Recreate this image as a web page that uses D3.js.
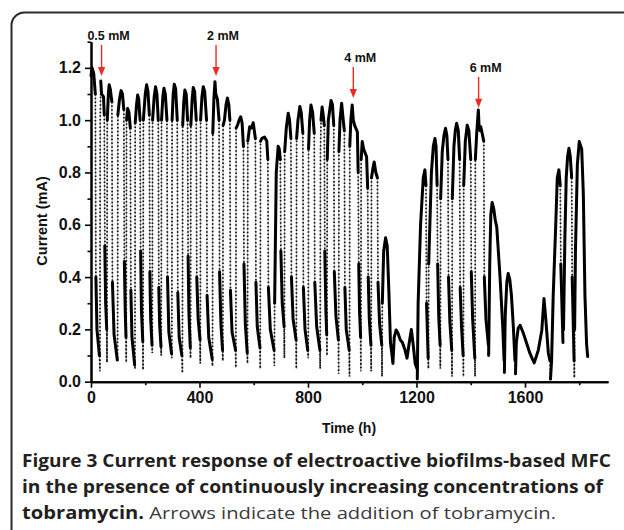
<!DOCTYPE html>
<html>
<head>
<meta charset="utf-8">
<script src="https://cdn.jsdelivr.net/npm/d3@7"></script>
<style>
  body { margin: 0; background: #fff; }
  svg text { font-family: "Liberation Sans", Arial, sans-serif; }
  .caption { font-family: "Open Sans", sans-serif !important; }
</style>
</head>
<body>
<svg id="chart" width="624" height="530"></svg>
<script>
// Current (mA) against time (h), one row per feeding cycle
const trace = [
  [[0,1.17],[4,1.20],[10,1.18],[16,1.10],[18,0.40],[22,0.2],[31,0.10]],
  [[33,0.04],[34,1.00],[36,1.15],[39,1.10],[46,1.09],[49,1.02],[51,0.52],[54,0.3],[58,0.20]],
  [[59,0.074],[60,1.00],[64,1.10],[67,1.135],[71,1.12],[77,1.07],[79,0.38],[85,0.18],[97,0.083]],
  [[98,0.08],[99,1.02],[105,1.08],[111,1.113],[116,1.10],[121,1.04],[123,0.46],[126,0.28],[129,0.17]],
  [[130,0.074],[131,1.00],[135,1.045],[140,1.03],[145,0.97],[147,0.35],[151,0.17],[161,0.064]],
  [[162,0.05],[163,0.99],[168,1.06],[172,1.096],[176,1.08],[181,1.0],[183,0.50],[186,0.27],[191,0.153]],
  [[192,0.045],[193,1.00],[200,1.10],[205,1.135],[210,1.11],[215,1.02],[217,0.42],[220,0.24],[225,0.14]],
  [[226,0.11],[227,1.00],[233,1.09],[238,1.128],[243,1.10],[248,1.0],[250,0.36],[253,0.22],[258,0.134]],
  [[259,0.10],[260,1.00],[265,1.09],[269,1.122],[274,1.10],[280,1.0],[282,0.40],[287,0.19],[297,0.108]],
  [[298,0.09],[299,1.00],[303,1.10],[307,1.137],[312,1.12],[318,1.0],[320,0.34],[325,0.17],[335,0.10]],
  [[337,0.033],[338,0.98],[342,1.07],[346,1.115],[351,1.10],[356,1.0],[358,0.48],[361,0.26],[366,0.13]],
  [[367,0.09],[368,0.98],[373,1.08],[377,1.125],[382,1.11],[388,1.0],[390,0.40],[395,0.24],[402,0.16]],
  [[403,0.07],[404,1.00],[409,1.09],[414,1.128],[419,1.11],[426,1.0],[428,0.33],[434,0.17],[447,0.086]],
  [[448,0.06],[449,0.95],[453,1.08],[457,1.147],[460,1.10],[466,1.08],[472,1.0],[474,0.42],[479,0.22],[485,0.12]],
  [[486,0.08],[487,0.98],[492,1.00],[498,1.06],[503,1.085],[508,1.06],[512,1.0],[514,0.35],[520,0.19],[533,0.12]],
  [[534,0.054],[535,0.97],[540,0.98],[546,1.0],[552,1.013],[557,0.99],[562,0.9],[564,0.45],[569,0.22],[576,0.11]],
  [[577,0.07],[578,0.92],[585,0.975],[592,0.97],[598,0.99],[602,0.96],[606,0.93],[608,0.38],[613,0.21],[623,0.13]],
  [[624,0.05],[625,0.92],[630,0.93],[640,0.935],[648,0.92],[652,0.85],[654,0.36],[661,0.2],[675,0.12]],
  [[676,0.06],[677,0.30],[683,0.80],[690,0.90],[694,0.89],[698,0.85],[700,0.50],[705,0.3],[712,0.21]],
  [[713,0.09],[714,0.88],[720,0.97],[727,1.026],[732,1.0],[737,0.93],[739,0.40],[745,0.24],[756,0.16]],
  [[757,0.05],[758,0.93],[763,1.0],[770,1.052],[775,1.03],[781,0.95],[783,0.36],[789,0.2],[799,0.12]],
  [[801,0.09],[802,0.89],[806,1.0],[811,1.058],[817,1.03],[823,0.95],[825,0.38],[832,0.21],[844,0.12]],
  [[845,0.05],[846,0.88],[848,1.0],[852,1.05],[856,1.02],[860,0.98],[862,0.50],[866,0.27],[869,0.18]],
  [[870,0.10],[871,0.85],[875,1.0],[885,1.075],[890,1.06],[895,0.98],[897,0.42],[903,0.25],[912,0.16]],
  [[913,0.03],[914,0.88],[918,1.0],[924,1.065],[930,1.0],[934,0.96],[936,0.36],[941,0.2],[952,0.12]],
  [[953,0.02],[954,0.90],[958,1.0],[963,1.058],[967,1.0],[972,0.98],[982,0.955],[985,0.80],[987,0.45],[990,0.27],[994,0.17]],
  [[995,0.04],[996,0.85],[1000,0.918],[1005,0.89],[1016,0.86],[1020,0.74],[1022,0.40],[1026,0.24],[1032,0.14]],
  [[1033,0.04],[1034,0.78],[1040,0.82],[1044,0.84],[1050,0.8],[1056,0.78],[1058,0.38],[1064,0.22],[1072,0.14]],
  [[1073,0.02],[1074,0.3],[1079,0.5],[1086,0.55],[1092,0.52],[1098,0.35],[1104,0.15],[1110,0.10],[1113,0.07],
   [1118,0.17],[1125,0.198],[1132,0.185],[1140,0.16],[1148,0.15],[1158,0.12],[1165,0.09],[1172,0.14],
   [1181,0.20],[1188,0.14],[1195,0.07],[1202,0.05]],
  [[1203,0.01],[1206,0.3],[1215,0.6],[1225,0.78],[1231,0.81],[1235,0.75],[1237,0.3],[1243,0.09]],
  [[1244,0.05],[1245,0.45],[1255,0.80],[1262,0.90],[1268,0.93],[1272,0.90],[1276,0.75],[1278,0.45],[1282,0.25],[1287,0.14]],
  [[1288,0.05],[1289,0.70],[1295,0.88],[1301,0.94],[1307,0.969],[1312,0.94],[1316,0.85],[1318,0.40],[1323,0.23],[1330,0.12]],
  [[1331,0.02],[1332,0.70],[1338,0.90],[1343,0.96],[1348,0.988],[1354,0.96],[1359,0.85],[1361,0.36],[1366,0.21],[1372,0.10]],
  [[1373,0.02],[1374,0.75],[1380,0.92],[1387,0.981],[1393,0.96],[1400,0.85],[1402,0.42],[1407,0.24],[1415,0.09]],
  [[1416,0.02],[1417,0.85],[1422,0.95],[1428,1.039],[1431,0.97],[1434,0.96],[1437,0.975],[1442,0.95],[1448,0.92],
   [1450,0.40],[1456,0.24],[1465,0.14]],
  [[1466,0.10],[1470,0.45],[1474,0.64],[1479,0.685],[1485,0.66],[1490,0.62],[1496,0.59],[1508,0.40],[1518,0.21],[1523,0.08]],
  [[1524,0.035],[1527,0.25],[1533,0.38],[1538,0.414],[1544,0.39],[1550,0.33],[1557,0.21],[1563,0.08]],
  [[1565,0.03],[1568,0.15],[1575,0.205],[1582,0.216],[1594,0.185],[1606,0.147],[1618,0.109],[1628,0.085],[1634,0.072],
   [1649,0.12],[1662,0.197],[1670,0.318],[1677,0.235],[1686,0.11],[1692,0.08]],
  [[1694,0.01],[1698,0.08],[1704,0.33],[1713,0.59],[1719,0.78],[1725,0.81],[1730,0.75],[1732,0.45],[1740,0.15]],
  [[1742,0.20],[1747,0.55],[1752,0.78],[1757,0.86],[1762,0.893],[1767,0.86],[1772,0.78],[1774,0.4],[1781,0.08]],
  [[1782,0.015],[1783,0.2],[1786,0.50],[1793,0.83],[1800,0.918],[1809,0.89],[1815,0.72],[1821,0.33],[1827,0.145],[1831,0.096]]
];

// Tobramycin additions
const doseLabels = ['0.5 mM', '2 mM', '4 mM', '6 mM'];
const doseHours  = [39, 461, 967, 1429];
const doseTip    = [1.169, 1.169, 1.085, 1.047];   // current level at the arrow tip

const xMajor = [0, 400, 800, 1200, 1600];
const xMinor = [200, 600, 1000, 1400, 1800];
const yMajor = [0, 0.2, 0.4, 0.6, 0.8, 1.0, 1.2];
const yMinor = [0.1, 0.3, 0.5, 0.7, 0.9, 1.1, 1.3];

const captionLines = [
  [['Figure 3 Current response of electroactive biofilms-based MFC', true]],
  [['in the presence of continuously increasing concentrations of', true]],
  [['tobramycin.', true], [' Arrows indicate the addition of tobramycin.', false]]
];

const svg = d3.select('#chart');

const x = d3.scaleLinear().domain([0, 1906]).range([91, 608]);
const y = d3.scaleLinear().domain([0, 1.3]).range([381.7, 41.7]);

// frame round the figure, cut by the page edge on the right and bottom
svg.append('rect')
  .attr('x', 11.5).attr('y', 12.5)
  .attr('width', 700).attr('height', 600)
  .attr('rx', 13)
  .attr('fill', 'none')
  .attr('stroke', '#2a2a2a')
  .attr('stroke-width', 2);

// axes
const axisStyle = g => {
  g.select('.domain').attr('stroke-width', 2);
  g.selectAll('.tick line').attr('stroke-width', 1.6);
  g.selectAll('.tick text')
    .attr('font-size', 16).attr('font-weight', 'bold').attr('fill', '#111')
    .style('font-family', '"Liberation Sans", Arial, sans-serif');
};

svg.append('g')
  .attr('transform', 'translate(91,0)')
  .call(d3.axisLeft(y).tickValues(yMinor).tickSize(3.5).tickSizeOuter(0).tickFormat(''))
  .call(axisStyle);
svg.append('g')
  .attr('transform', 'translate(91,0)')
  .call(d3.axisLeft(y).tickValues(yMajor).tickSize(6).tickSizeOuter(0).tickPadding(4).tickFormat(d3.format('.1f')))
  .call(axisStyle);

svg.append('g')
  .attr('transform', 'translate(0,381.7)')
  .call(d3.axisBottom(x).tickValues(xMinor).tickSize(3.5).tickSizeOuter(0).tickFormat(''))
  .call(axisStyle);
svg.append('g')
  .attr('transform', 'translate(0,381.7)')
  .call(d3.axisBottom(x).tickValues(xMajor).tickSize(6).tickSizeOuter(0).tickPadding(4).tickFormat(d3.format('d')))
  .call(axisStyle);

svg.append('text')
  .attr('transform', 'translate(47,221) rotate(-90)')
  .attr('text-anchor', 'middle')
  .attr('font-size', 14.5).attr('font-weight', 'bold').attr('fill', '#111')
  .text('Current (mA)');

svg.append('text')
  .attr('x', 349).attr('y', 433)
  .attr('text-anchor', 'middle')
  .attr('font-size', 14).attr('font-weight', 'bold').attr('fill', '#111')
  .text('Time (h)');

// trace: quick jumps are sparse markers on a grey line, slow stretches pile up into a thick line
const pts = trace.flat();
const line = d3.line().x(d => x(d[0])).y(d => y(d[1]));

const runs = [];
for (let i = 1; i < pts.length; i++) {
  const fast = pts[i][0] - pts[i - 1][0] <= 2;
  const last = runs[runs.length - 1];
  if (last && last.fast === fast) last.pts.push(pts[i]);
  else runs.push({ fast, pts: [pts[i - 1], pts[i]] });
}

const chart = svg.append('g').attr('class', 'chart');

chart.append('path')
  .datum(pts)
  .attr('d', line)
  .attr('fill', 'none')
  .attr('stroke', '#9a9a9a')
  .attr('stroke-width', 0.8);

chart.selectAll('path.fast')
  .data(runs.filter(r => r.fast))
  .join('path')
  .attr('class', 'fast')
  .attr('d', r => line(r.pts))
  .attr('fill', 'none')
  .attr('stroke', '#111')
  .attr('stroke-width', 1.7)
  .attr('stroke-dasharray', '1.5 2.2');

chart.selectAll('path.slow')
  .data(runs.filter(r => !r.fast))
  .join('path')
  .attr('class', 'slow')
  .attr('d', r => line(r.pts))
  .attr('fill', 'none')
  .attr('stroke', '#000')
  .attr('stroke-width', 3)
  .attr('stroke-linejoin', 'round')
  .attr('stroke-linecap', 'round');

// dose arrows
const red = '#ee2a24';
doseLabels.forEach((label, i) => {
  const ax = x(doseHours[i]);
  const tip = y(doseTip[i]);
  svg.append('line')
    .attr('x1', ax).attr('x2', ax)
    .attr('y1', tip - 31).attr('y2', tip - 7)
    .attr('stroke', red).attr('stroke-width', 1.4);
  svg.append('path')
    .attr('d', `M${ax - 3.6},${tip - 9} L${ax + 3.6},${tip - 9} L${ax},${tip} Z`)
    .attr('fill', red);
  svg.append('text')
    .attr('x', ax + 7).attr('y', tip - 36)
    .attr('text-anchor', 'middle')
    .attr('font-size', 12.5).attr('font-weight', 'bold').attr('fill', '#111')
    .text(label);
});

// caption
const capWidths = [589, 581, 534];
captionLines.forEach((parts, i) => {
  const t = svg.append('text')
    .attr('class', 'caption')
    .attr('x', 22).attr('y', 467 + i * 26)
    .attr('font-size', 17)
    .attr('textLength', capWidths[i])
    .attr('lengthAdjust', 'spacingAndGlyphs');
  parts.forEach(([s, bold]) => {
    t.append('tspan')
      .attr('font-weight', bold ? 700 : 400)
      .attr('fill', bold ? '#231f20' : '#3a3a3a')
      .text(s);
  });
});
</script>
</body>
</html>
